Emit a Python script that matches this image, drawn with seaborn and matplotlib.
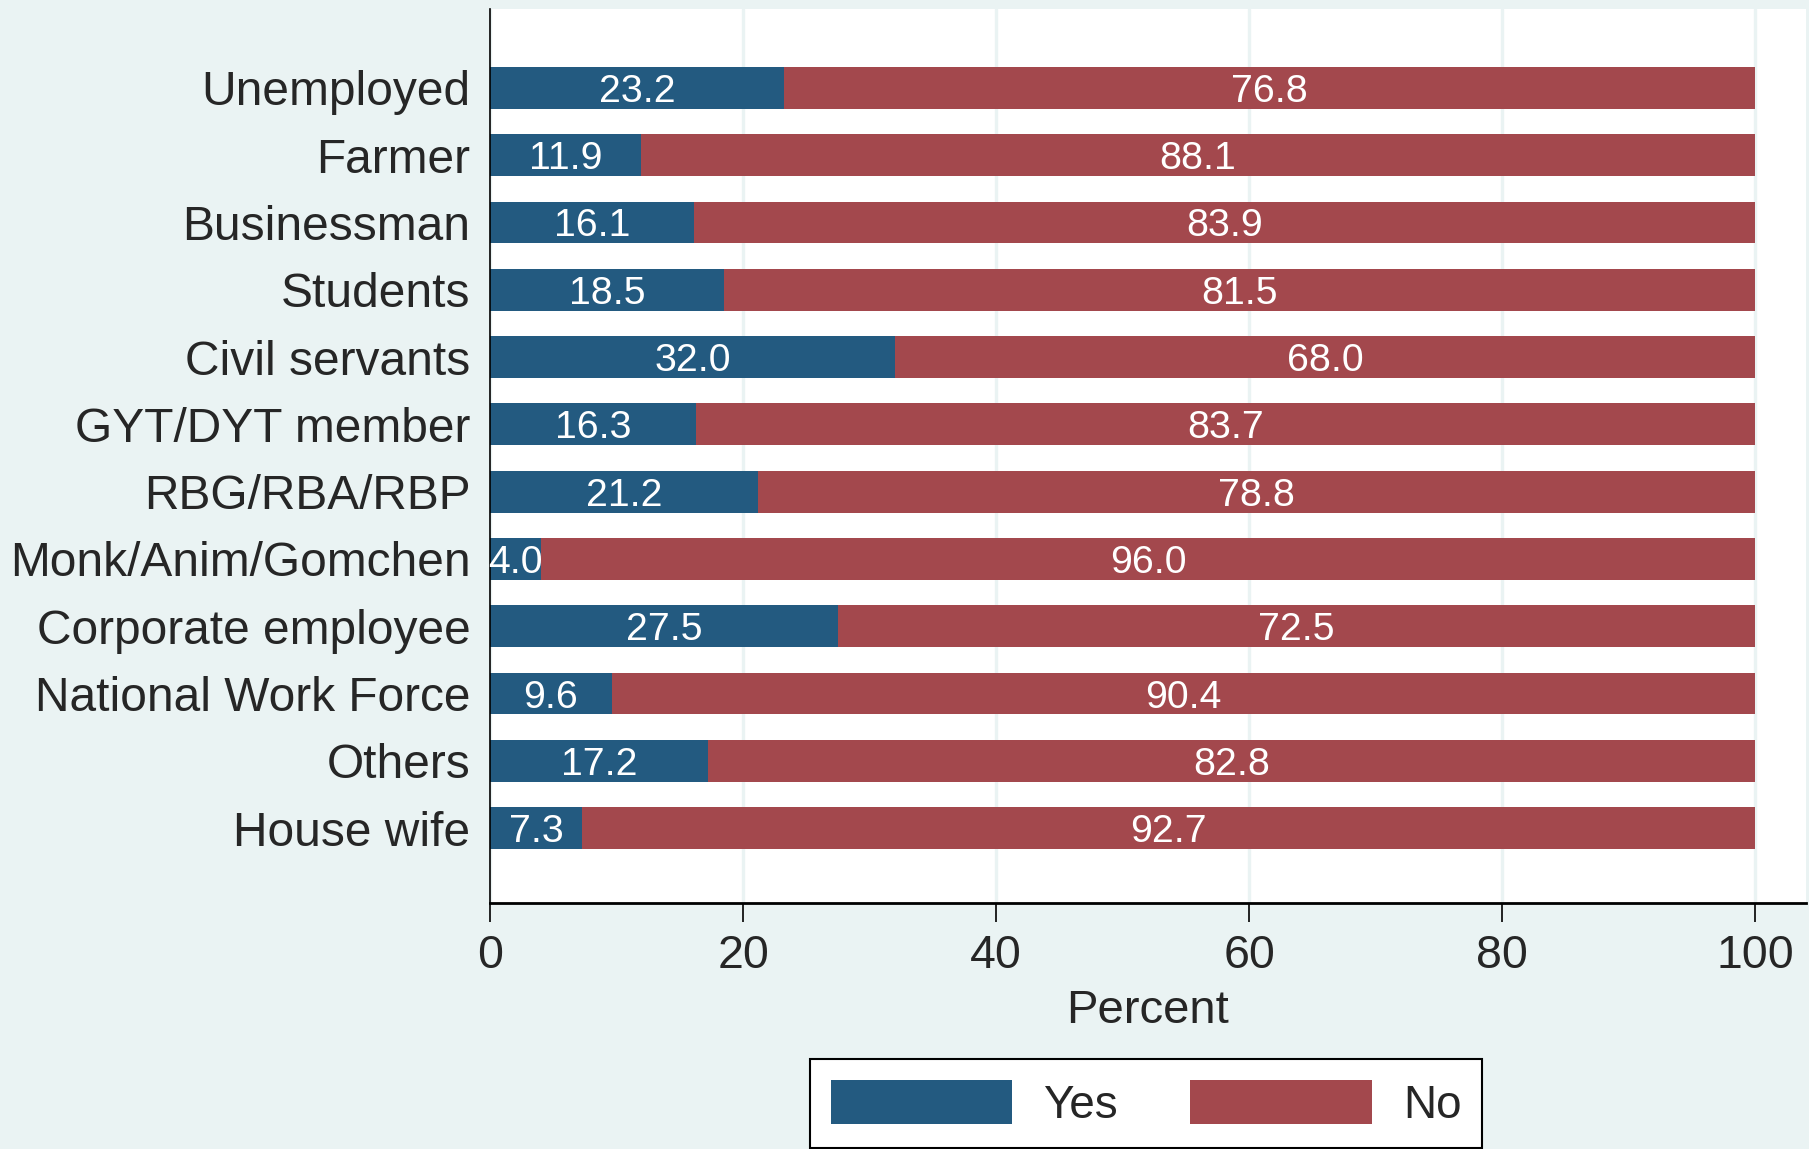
import matplotlib
matplotlib.use("Agg")
import matplotlib.pyplot as plt
import seaborn as sns
import pandas as pd
from matplotlib.patches import Patch

categories = ["Unemployed", "Farmer", "Businessman", "Students", "Civil servants",
              "GYT/DYT member", "RBG/RBA/RBP", "Monk/Anim/Gomchen", "Corporate employee",
              "National Work Force", "Others", "House wife"]
yes_pct = [23.2, 11.9, 16.1, 18.5, 32.0, 16.3, 21.2, 4.0, 27.5, 9.6, 17.2, 7.3]
no_pct = [76.8, 88.1, 83.9, 81.5, 68.0, 83.7, 78.8, 96.0, 72.5, 90.4, 82.8, 92.7]
x_ticks = [0, 20, 40, 60, 80, 100]

BG = "#EAF3F3"
BLUE = "#235A80"
RED = "#A3484D"

df = pd.DataFrame({"category": categories, "Yes": yes_pct, "No": no_pct})
df["total"] = df["Yes"] + df["No"]

sns.set_theme(style="white")
plt.rcParams["font.family"] = ["Liberation Sans", "DejaVu Sans"]

fig = plt.figure(figsize=(18.09, 11.49), dpi=100, facecolor=BG)
ax = fig.add_axes([0.2709, 0.2141, 0.9983 - 0.2709, 0.9922 - 0.2141])
ax.set_facecolor("white")

sns.barplot(data=df, y="category", x="total", color=RED, saturation=1, width=0.62,
            orient="h", ax=ax, edgecolor="none", order=categories)
sns.barplot(data=df, y="category", x="Yes", color=BLUE, saturation=1, width=0.62,
            orient="h", ax=ax, edgecolor="none", order=categories)

for i, (y, n) in enumerate(zip(df["Yes"], df["No"])):
    ax.text(y / 2, i, f"{y:.1f}", ha="center", va="center_baseline", color="white", fontsize=28.3)
    ax.text(y + n / 2, i, f"{n:.1f}", ha="center", va="center_baseline", color="white", fontsize=28.3)

ax.set_xlim(0, 104)
ax.set_ylim(12.11, -1.17)
ax.set_xticks(x_ticks)
ax.set_xticklabels([str(t) for t in x_ticks])
ax.xaxis.grid(True, color=BG, linewidth=2.4)
ax.set_axisbelow(True)
ax.tick_params(axis="x", length=14, width=1.2, color="black", pad=8, labelsize=33.5, bottom=True)
ax.tick_params(axis="y", length=0, pad=14, labelsize=34.5)
ax.set_ylabel("")
ax.set_xlabel("Percent", fontsize=34, labelpad=8)

for s in ["top", "right"]:
    ax.spines[s].set_visible(False)
ax.spines["left"].set_color("black")
ax.spines["left"].set_linewidth(1.2)
ax.spines["bottom"].set_color("black")
ax.spines["bottom"].set_linewidth(2.0)

handles = [Patch(facecolor=BLUE, edgecolor="none", label="Yes"),
           Patch(facecolor=RED, edgecolor="none", label="No")]
leg = fig.legend(handles=handles, loc="upper center", bbox_to_anchor=(0.6335, 0.078),
                 ncol=2, fontsize=33, frameon=True, fancybox=False, handlelength=3.96,
                 handleheight=1.1, handletextpad=0.68, columnspacing=1.58, borderpad=0.45,
                 borderaxespad=0)
leg.get_frame().set_edgecolor("black")
leg.get_frame().set_linewidth(1.5)
leg.get_frame().set_facecolor("white")
leg.get_frame().set_alpha(1)

fig.savefig("out.png", dpi=100, facecolor=BG)
